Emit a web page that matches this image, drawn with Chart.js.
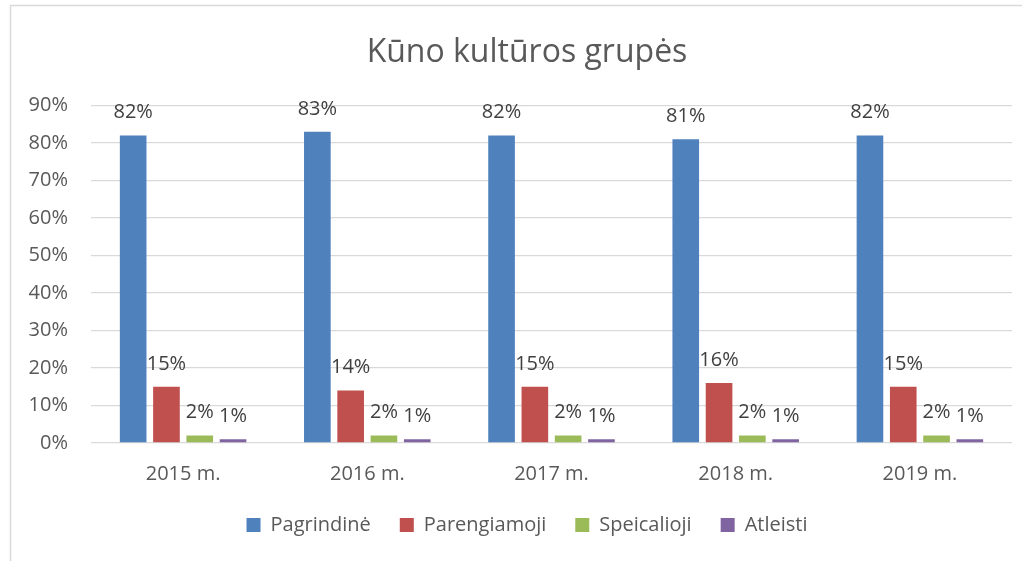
<!DOCTYPE html>
<html>
<head>
<meta charset="utf-8">
<script src="https://cdn.jsdelivr.net/npm/chart.js@4"></script>
<style>
html,body{margin:0;padding:0;background:#fff;}
#wrap{width:1022px;height:561px;position:relative;}
</style>
</head>
<body>
<div id="wrap"><canvas id="groupsChart" width="1022" height="561"></canvas></div>
<script>
const years = ['2015 m.', '2016 m.', '2017 m.', '2018 m.', '2019 m.']
const pagrindine = [82, 83, 82, 81, 82]
const parengiamoji = [15, 14, 15, 16, 15]
const specialioji = [2, 2, 2, 2, 2]
const atleisti = [1, 1, 1, 1, 1]
const yTicks = [0, 10, 20, 30, 40, 50, 60, 70, 80, 90]

const FONT = "'Open Sans', sans-serif"

// frame round the chart, like the office chart border
const framePlugin = {
id:'frame',
beforeDraw(chart){
const c = chart.ctx
c.save()
c.fillStyle = '#fff'
c.fillRect(0, 0, chart.width, chart.height)
c.strokeStyle = '#d9d9d9'
c.lineWidth = 1.5
c.beginPath()
c.moveTo(10.5, chart.height)
c.lineTo(10.5, 5.5)
c.lineTo(chart.width, 5.5)
c.stroke()
c.restore()
}
}

// value labels above each bar
const valueLabels = {
id:'valueLabels',
afterDatasetsDraw(chart){
const c = chart.ctx
c.save()
c.font = '20px ' + FONT
c.fillStyle = '#404040'
c.textAlign = 'center'
c.textBaseline = 'alphabetic'
chart.data.datasets.forEach((ds, i) => {
chart.getDatasetMeta(i).data.forEach((bar, j) => {
c.fillText(ds.data[j] + '%', bar.x, bar.y - 17)
})
})
c.restore()
}
}

const ctx = document.getElementById('groupsChart')

new Chart(ctx,{
type:'bar',
data:{
labels:years,
datasets:[
{label:'Pagrindinė', data:pagrindine, backgroundColor:'#4F81BD'},
{label:'Parengiamoji', data:parengiamoji, backgroundColor:'#C0504D'},
{label:'Speicalioji', data:specialioji, backgroundColor:'#9BBB59'},
{label:'Atleisti', data:atleisti, backgroundColor:'#8064A2'}
]
},
options:{
responsive:false,
animation:false,
categoryPercentage:0.723,
barPercentage:0.8,
layout:{
padding:{left:42, right:10, top:0, bottom:16}
},
plugins:{
title:{
display:true,
text:'Kūno kultūros grupės',
color:'#595959',
font:{family:FONT, size:32, weight:'normal'},
padding:{top:34, bottom:33}
},
legend:{
position:'bottom',
labels:{
color:'#595959',
font:{family:FONT, size:20},
boxWidth:14,
boxHeight:14,
padding:29
}
},
tooltip:{enabled:false}
},
scales:{
x:{
grid:{display:false},
border:{display:false},
ticks:{
color:'#595959',
font:{family:FONT, size:20},
padding:11
},
afterFit(axis){ axis.height = 43 }
},
y:{
min:0,
max:90,
afterBuildTicks(axis){ axis.ticks = yTicks.map(v => ({value:v})) },
grid:{color:'#d9d9d9', lineWidth:1.3, drawTicks:false},
border:{display:false},
ticks:{
color:'#595959',
font:{family:FONT, size:20},
padding:23,
callback:v => v + '%'
},
afterFit(axis){
axis.width = 49
// labels reach into the left padding, so don't clip them to the axis box
axis._computeLabelArea = () => undefined
}
}
}
},
plugins:[framePlugin, valueLabels]
})
</script>
</body>
</html>
